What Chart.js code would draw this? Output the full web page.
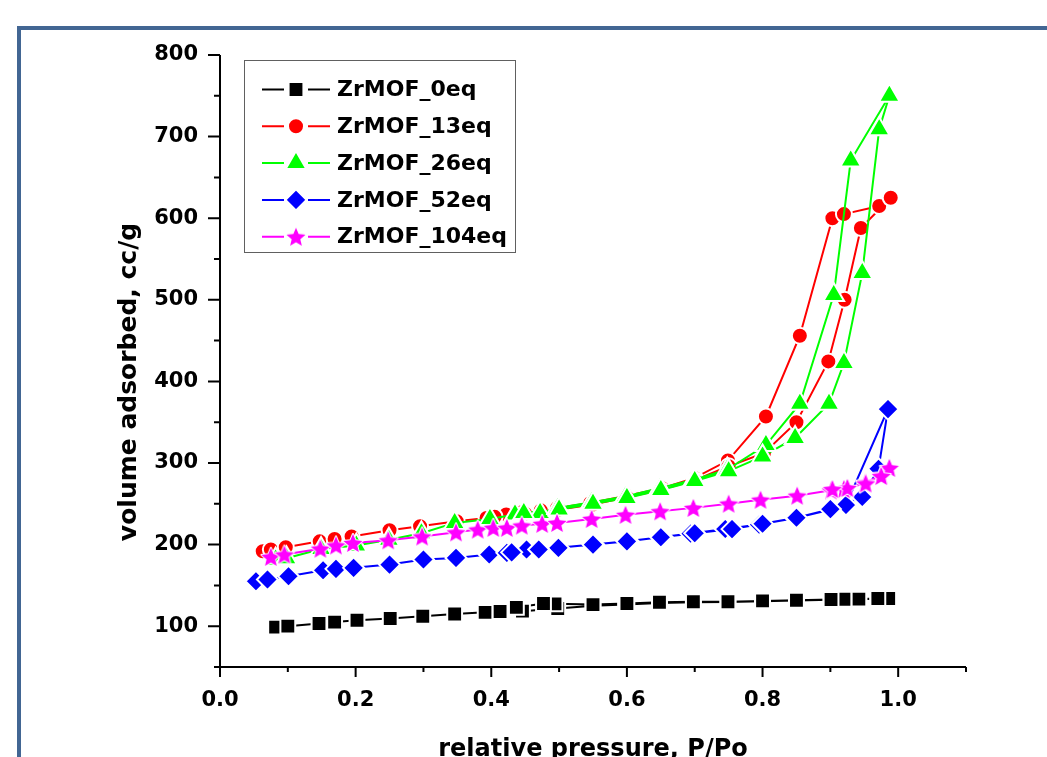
<!DOCTYPE html>
<html>
<head>
<meta charset="utf-8">
<script src="https://cdn.jsdelivr.net/npm/chart.js@4.4.0/dist/chart.umd.min.js"></script>
<style>
  html, body { margin: 0; padding: 0; background: #fff; }
  canvas { display: block; }
</style>
</head>
<body>
<canvas id="iso" width="1047" height="757"></canvas>
<script>
// relative pressure (P/Po) and volume adsorbed (cc/g), adsorption then desorption
const p0eq = [0.082, 0.100, 0.146, 0.169, 0.202, 0.251, 0.299, 0.346, 0.391, 0.413, 0.446, 0.498, 0.550, 0.598, 0.648, 0.698, 0.749, 0.800, 0.850, 0.901, 0.920, 0.942, 0.970, 0.986,
              0.970, 0.942, 0.920, 0.901, 0.850, 0.800, 0.749, 0.698, 0.648, 0.600, 0.550, 0.494, 0.477, 0.437];
const v0eq = [98.8, 100.0, 103.3, 105.0, 107.3, 109.4, 112.2, 115.0, 117.0, 118.0, 118.4, 121.7, 125.0, 126.5, 128.5, 129.5, 129.8, 130.5, 131.5, 132.5, 132.7, 133.0, 133.5, 134.0,
              134.0, 133.2, 133.0, 132.7, 131.8, 131.0, 130.0, 130.0, 129.4, 127.8, 126.5, 127.4, 127.8, 123.0];

const p13eq = [0.063, 0.075, 0.097, 0.147, 0.169, 0.194, 0.250, 0.295, 0.349, 0.393, 0.422, 0.446, 0.473, 0.497, 0.546, 0.600, 0.652, 0.700, 0.749, 0.805, 0.855, 0.903, 0.920, 0.972, 0.989,
               0.945, 0.921, 0.897, 0.850, 0.802, 0.750, 0.700, 0.650, 0.600, 0.550, 0.500, 0.450, 0.405];
const v13eq = [191.8, 194.0, 196.8, 204.0, 207.0, 210.0, 217.5, 222.5, 228.6, 232.7, 236.8, 240.0, 242.0, 245.0, 251.0, 260.0, 269.0, 281.7, 303.0, 357.0, 456.0, 600.0, 605.0, 615.0, 625.0,
               588.0, 500.0, 424.5, 350.0, 312.0, 296.0, 279.0, 267.0, 258.0, 249.0, 243.0, 238.0, 234.0];

const p26eq = [0.082, 0.098, 0.149, 0.201, 0.249, 0.297, 0.346, 0.398, 0.435, 0.472, 0.498, 0.548, 0.598, 0.649, 0.699, 0.748, 0.805, 0.855, 0.905, 0.930, 0.987,
               0.972, 0.947, 0.920, 0.898, 0.848, 0.800, 0.750, 0.700, 0.650, 0.600, 0.550, 0.500, 0.448];
const v26eq = [181.6, 183.3, 194.7, 198.8, 206.0, 214.0, 226.6, 231.5, 236.8, 238.8, 245.0, 252.0, 259.0, 269.5, 279.6, 292.0, 322.0, 372.7, 506.0, 670.6, 750.0,
               709.0, 532.7, 422.5, 372.7, 330.7, 308.0, 290.0, 278.0, 267.0, 257.0, 250.0, 243.0, 238.8];

const p52eq = [0.053, 0.070, 0.101, 0.152, 0.171, 0.197, 0.250, 0.300, 0.348, 0.397, 0.423, 0.452, 0.499, 0.551, 0.602, 0.652, 0.694, 0.745, 0.795, 0.849, 0.901, 0.947, 0.971, 0.985,
               0.923, 0.900, 0.850, 0.800, 0.755, 0.700, 0.650, 0.600, 0.550, 0.470, 0.430];
const v52eq = [155.0, 157.2, 161.2, 168.6, 170.3, 171.5, 175.5, 181.7, 183.7, 187.8, 189.9, 193.9, 196.0, 200.0, 204.0, 209.4, 213.5, 219.2, 224.5, 232.7, 242.9, 258.4, 293.0, 366.0,
               248.5, 243.5, 233.0, 225.5, 219.0, 214.0, 209.0, 204.0, 200.0, 194.0, 190.5];

const p104eq = [0.075, 0.095, 0.148, 0.171, 0.196, 0.248, 0.298, 0.348, 0.380, 0.403, 0.423, 0.445, 0.475, 0.497, 0.548, 0.598, 0.649, 0.698, 0.750, 0.797, 0.851, 0.901, 0.920, 0.952, 0.975, 0.987,
                0.975, 0.952, 0.925, 0.903];
const v104eq = [185.0, 187.8, 195.0, 199.0, 202.0, 205.3, 210.0, 215.0, 218.4, 220.5, 220.5, 223.3, 225.4, 226.6, 231.5, 236.5, 240.8, 245.0, 250.2, 255.0, 260.0, 266.5, 268.0, 276.0, 285.0, 294.0,
                284.0, 275.0, 269.5, 268.0];

const seriesNames = ['ZrMOF_0eq', 'ZrMOF_13eq', 'ZrMOF_26eq', 'ZrMOF_52eq', 'ZrMOF_104eq'];
const xTicks = [0, 0.2, 0.4, 0.6, 0.8, 1.0];
const xMinor = [0.1, 0.3, 0.5, 0.7, 0.9, 1.1];
const yTicks = [100, 200, 300, 400, 500, 600, 700, 800];
const yMinor = [50, 150, 250, 350, 450, 550, 650, 750];

const FONT = '"DejaVu Sans", "Liberation Sans", Arial, sans-serif';

function makeStar(r, fill) {
    const c = document.createElement('canvas');
    const s = Math.ceil(r * 2 + 6);
    c.width = s; c.height = s;
    const g = c.getContext('2d');
    g.translate(s / 2, s / 2 + r * 0.1);
    g.beginPath();
    for (let i = 0; i < 10; i++) {
        const rr = i % 2 ? r * 0.45 : r;
        const a = -Math.PI / 2 + i * Math.PI / 5;
        g.lineTo(rr * Math.cos(a), rr * Math.sin(a));
    }
    g.closePath();
    g.lineJoin = 'round';
    g.lineWidth = 2;
    g.strokeStyle = '#fff';
    g.stroke();
    g.fillStyle = fill;
    g.fill();
    return c;
}

const toPoints = (p, v) => p.map((x, i) => ({ x: x, y: v[i] }));

const styles = [
    { color: '#000000', pointStyle: 'rect', radius: 10.5, order: 5, data: toPoints(p0eq, v0eq) },
    { color: '#ff0000', pointStyle: 'circle', radius: 8, order: 4, data: toPoints(p13eq, v13eq) },
    { color: '#00ff00', pointStyle: 'triangle', radius: 12, order: 3, data: toPoints(p26eq, v26eq) },
    { color: '#0000ff', pointStyle: 'rectRot', radius: 10.5, order: 2, data: toPoints(p52eq, v52eq) },
    { color: '#ff00ff', pointStyle: makeStar(10, '#ff00ff'), radius: 10, order: 1, data: toPoints(p104eq, v104eq) }
];

const datasets = styles.map((s, i) => ({
    label: seriesNames[i],
    data: s.data,
    showLine: true,
    borderColor: s.color,
    borderWidth: 2,
    backgroundColor: s.color,
    pointStyle: s.pointStyle,
    pointRadius: s.radius,
    pointBackgroundColor: s.color,
    pointBorderColor: '#ffffff',
    pointBorderWidth: 2,
    tension: 0,
    order: s.order,
    clip: false
}));

const decor = {
    id: 'decor',
    beforeDraw(chart) {
        const ctx = chart.ctx;
        ctx.save();
        ctx.fillStyle = '#fff';
        ctx.fillRect(0, 0, chart.width, chart.height);
        ctx.restore();
    },
    afterDraw(chart) {
        const { ctx, chartArea: a } = chart;
        const x = chart.scales.x, y = chart.scales.y;
        ctx.save();

        // outer blue frame
        ctx.strokeStyle = '#426693';
        ctx.lineWidth = 4;
        ctx.beginPath();
        ctx.moveTo(19, chart.height);
        ctx.lineTo(19, 28);
        ctx.lineTo(chart.width, 28);
        ctx.stroke();

        // axes and ticks
        ctx.strokeStyle = '#000';
        ctx.lineWidth = 2;
        ctx.beginPath();
        ctx.moveTo(a.left, a.top);
        ctx.lineTo(a.left, a.bottom + 1);
        ctx.moveTo(a.left - 1, a.bottom);
        ctx.lineTo(a.right, a.bottom);
        xTicks.forEach(v => { const px = x.getPixelForValue(v); ctx.moveTo(px, a.bottom); ctx.lineTo(px, a.bottom + 10); });
        xMinor.forEach(v => { const px = x.getPixelForValue(v); ctx.moveTo(px, a.bottom); ctx.lineTo(px, a.bottom + 5); });
        yTicks.forEach(v => { const py = y.getPixelForValue(v); ctx.moveTo(a.left, py); ctx.lineTo(a.left - 12, py); });
        yMinor.forEach(v => { const py = y.getPixelForValue(v); ctx.moveTo(a.left, py); ctx.lineTo(a.left - 6, py); });
        ctx.stroke();

        // axis titles
        ctx.fillStyle = '#000';
        ctx.font = 'bold 24px ' + FONT;
        ctx.textAlign = 'center';
        ctx.textBaseline = 'alphabetic';
        ctx.fillText('relative pressure, P/Po', (a.left + a.right) / 2, 756);
        ctx.save();
        ctx.translate(136, 382);
        ctx.rotate(-Math.PI / 2);
        ctx.font = 'bold 25px ' + FONT;
        ctx.fillText('volume adsorbed, cc/g', 0, 0);
        ctx.restore();

        // legend
        ctx.lineWidth = 1;
        ctx.strokeStyle = '#606060';
        ctx.strokeRect(244.5, 60.5, 271, 192);
        ctx.font = 'bold 22px ' + FONT;
        ctx.textAlign = 'left';
        ctx.textBaseline = 'middle';
        styles.forEach((s, i) => {
            const ry = 89.5 + i * 36.8;
            ctx.strokeStyle = s.color;
            ctx.lineWidth = 2;
            ctx.beginPath();
            ctx.moveTo(262, ry); ctx.lineTo(284, ry);
            ctx.moveTo(308, ry); ctx.lineTo(330, ry);
            ctx.stroke();
            ctx.fillStyle = s.color;
            ctx.strokeStyle = '#fff';
            ctx.lineWidth = 2;
            Chart.helpers.drawPoint(ctx, { pointStyle: s.pointStyle, radius: s.radius, rotation: 0, borderWidth: 2 }, 296, ry);
            ctx.fillStyle = '#000';
            ctx.fillText(seriesNames[i], 337, ry + 1);
        });

        ctx.restore();
    }
};

new Chart(document.getElementById('iso'), {
    type: 'scatter',
    data: { datasets: datasets },
    options: {
        responsive: false,
        animation: false,
        events: [],
        layout: { padding: { left: 0, top: 55, right: 81, bottom: 0 } },
        plugins: { legend: { display: false }, tooltip: { enabled: false } },
        scales: {
            x: {
                type: 'linear',
                min: 0,
                max: 1.1,
                afterFit: scale => { scale.height = 90; },
                afterBuildTicks: scale => { scale.ticks = xTicks.map(v => ({ value: v })); },
                grid: { display: false, drawTicks: false },
                border: { display: false },
                ticks: {
                    padding: 21,
                    color: '#000',
                    font: { family: FONT, size: 21, weight: 'bold' },
                    callback: v => v.toFixed(1),
                    maxRotation: 0,
                    autoSkip: false
                }
            },
            y: {
                type: 'linear',
                min: 50,
                max: 800,
                afterFit: scale => { scale.width = 220; },
                afterBuildTicks: scale => { scale.ticks = yTicks.map(v => ({ value: v })); },
                grid: { display: false, drawTicks: false },
                border: { display: false },
                ticks: {
                    padding: 22,
                    color: '#000',
                    font: { family: FONT, size: 21, weight: 'bold' },
                    callback: v => String(v),
                    autoSkip: false
                }
            }
        }
    },
    plugins: [decor]
});
</script>
</body>
</html>
